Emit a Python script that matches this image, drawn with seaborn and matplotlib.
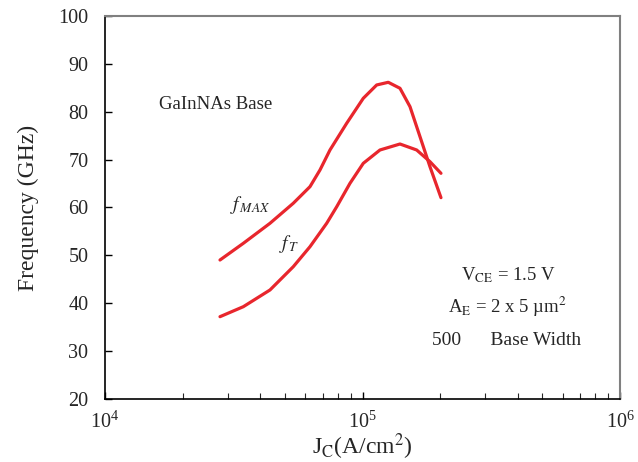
import matplotlib
matplotlib.use("Agg")
import matplotlib.pyplot as plt
import seaborn as sns
import pandas as pd
import numpy as np
from matplotlib.ticker import LogLocator, LogFormatterMathtext, MultipleLocator

# values
jc_fmax = [27960, 34450, 43720, 53840, 62520, 68360, 74760, 86800, 100700,
           113500, 125900, 139800, 152900, 167200, 182800, 201700]
fmax = [49.03, 52.52, 56.70, 60.88, 64.35, 67.83, 72.01, 77.59, 82.81,
        85.59, 86.15, 84.90, 81.06, 74.79, 68.52, 62.05]

jc_ft = [27960, 34450, 43720, 53840, 62520, 72590, 79420, 89400, 100700,
         116900, 139800, 162300, 182800, 201700]
ft = [37.19, 39.28, 42.77, 47.63, 51.81, 56.70, 60.17, 65.05, 69.23,
      72.01, 73.26, 72.01, 69.57, 67.14]

sns.set_style("ticks")
plt.rcParams['font.family'] = ['Liberation Serif', 'DejaVu Serif']
plt.rcParams['mathtext.fontset'] = 'stix'

df_max = pd.DataFrame({"jc": jc_fmax, "f": fmax})
df_t = pd.DataFrame({"jc": jc_ft, "f": ft})

fig = plt.figure(figsize=(6.38, 4.62), dpi=100)
ax = fig.add_axes([0.1646, 0.1364, 0.8072, 0.829])
red = "#e8262d"
sns.lineplot(data=df_max, x="jc", y="f", ax=ax, color=red, lw=2.3)
sns.lineplot(data=df_t, x="jc", y="f", ax=ax, color=red, lw=2.3)

ax.set_xscale("log")
ax.set_xlim(1e4, 1e6)
ax.set_ylim(20, 100)
ax.yaxis.set_major_locator(MultipleLocator(10))
ax.xaxis.set_major_locator(LogLocator(base=10))
ax.xaxis.set_minor_locator(LogLocator(base=10, subs=np.arange(2, 10)))
ax.xaxis.set_major_formatter(LogFormatterMathtext())
ax.tick_params(axis='both', which='major', direction='in', length=5, width=1, labelsize=14.5, color='black')
ax.tick_params(axis='y', which='major', pad=12)
ax.tick_params(axis='x', which='major', pad=9)
ax.tick_params(axis='x', which='minor', direction='in', length=4, width=0.8)
for s in ['left', 'bottom']:
    ax.spines[s].set_color('black')
    ax.spines[s].set_linewidth(1.2)
for s in ['top', 'right']:
    ax.spines[s].set_visible(True)
    ax.spines[s].set_color('#808080')
    ax.spines[s].set_linewidth(1.5)

ax.set_xlabel(r"J$_{\mathrm{C}}$(A/cm$^{2}$)", fontsize=17, labelpad=-1)
ax.set_ylabel("Frequency (GHz)", fontsize=17, labelpad=14)

ax.text(1.62e4, 81.5, "GaInNAs Base", fontsize=13.5, va='center', ha='left')
ax.text(3.05e4, 60.5, r"$f_{\,MAX}$", fontsize=14, va='center', ha='left')
ax.text(4.75e4, 52.3, r"$f_{\,T}$", fontsize=14, va='center', ha='left')
ax.text(3.7e5, 45.9, r"V$_{\mathrm{CE}}$ = 1.5 V", fontsize=13.5, va='center', ha='center')
ax.text(3.65e5, 39.2, r"A$_{\mathrm{E}}$ = 2 x 5 µm$^{2}$", fontsize=13.5, va='center', ha='center')
ax.text(1.86e5, 32.3, "500      Base Width", fontsize=14, va='center', ha='left')

fig.savefig("out.png", dpi=100)
